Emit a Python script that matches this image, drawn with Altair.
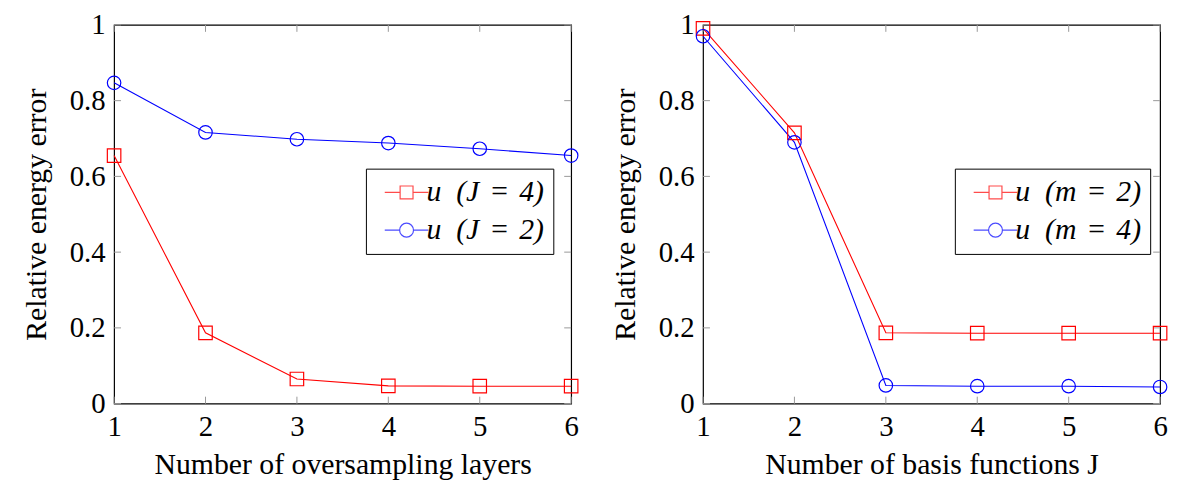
import altair as alt
import pandas as pd

# ---- data ----
x_vals = [1, 2, 3, 4, 5, 6]
left_red = [0.655, 0.187, 0.065, 0.047, 0.046, 0.046]     # u (J = 4)
left_blue = [0.847, 0.716, 0.698, 0.688, 0.673, 0.655]    # u (J = 2)
right_red = [0.991, 0.715, 0.187, 0.186, 0.186, 0.186]    # u (m = 2)
right_blue = [0.970, 0.690, 0.048, 0.046, 0.046, 0.044]   # u (m = 4)

left_names = ["u\u2002(J\u2004=\u20044)", "u\u2002(J\u2004=\u20042)"]
right_names = ["u\u2002(m\u2004=\u20042)", "u\u2002(m\u2004=\u20044)"]
x_ticks = [1, 2, 3, 4, 5, 6]
y_ticks = [0, 0.2, 0.4, 0.6, 0.8, 1]

FONT = "Liberation Serif"
FS = 29
TFS = 30
W, H = 461, 382
RED, BLUE = "#ff0000", "#0000ff"
TICK = 7

sq_leg = "M-4.4,0H-1.3M1.3,0H4.4M-1.3,-1.3H1.3V1.3H-1.3Z"
ci_leg = "M-4.4,0H-1.4M1.4,0H4.4M1.4,0A1.4,1.4,0,1,1,-1.4,0A1.4,1.4,0,1,1,1.4,0"


def panel(names, red, blue, xtitle):
    df = pd.DataFrame({
        "x": x_vals * 2,
        "y": red + blue,
        "s": [names[0]] * len(x_vals) + [names[1]] * len(x_vals),
    })
    xs = alt.Scale(domain=[1, 6], nice=False)
    ys = alt.Scale(domain=[0, 1], nice=False)
    cs = alt.Scale(domain=names, range=[RED, BLUE])
    X = alt.X("x:Q", scale=xs, title=xtitle,
              axis=alt.Axis(values=x_ticks, format="d"))
    Y = alt.Y("y:Q", scale=ys, title="Relative energy error",
              axis=alt.Axis(values=y_ticks, format="~g"))
    base = alt.Chart(df)
    lines = base.mark_line(strokeWidth=1.1).encode(
        x=X, y=Y, color=alt.Color("s:N", scale=cs, legend=None), detail="s:N")
    pts = base.mark_point(filled=False, size=185, strokeWidth=1.2, opacity=1).encode(
        x=X, y=Y,
        color=alt.Color("s:N", scale=cs, legend=None),
        shape=alt.Shape("s:N", scale=alt.Scale(domain=names, range=["square", "circle"]), legend=None))
    stroke_expr = f"datum.value === '{names[0]}' ? '{RED}' : '{BLUE}'"
    lg = dict(
        title=None, orient="none", legendX=254, legendY=145,
        strokeColor="#000000", fillColor="#ffffff", padding=9,
        cornerRadius=0, symbolSize=100, symbolStrokeWidth=1.2,
        symbolStrokeColor={"expr": stroke_expr},
        symbolOffset=17, labelOffset=5, rowPadding=8,
        labelFont=FONT, labelFontSize=TFS, labelFontStyle="italic",
        labelColor="#000000", labelLimit=400)
    leg = base.transform_filter("false").mark_point(filled=False, size=100, strokeWidth=1.2).encode(
        x=X, y=Y,
        color=alt.Color("s:N", scale=cs, legend=None),
        shape=alt.Shape("s:N", scale=alt.Scale(domain=names, range=[sq_leg, ci_leg]),
                        legend=alt.Legend(**lg)))
    tdf_x = pd.DataFrame({"t": x_ticks})
    tdf_y = pd.DataFrame({"t": y_ticks})
    tick_style = dict(color="#999999", strokeWidth=1)
    bt = alt.Chart(tdf_x).mark_rule(**tick_style).encode(
        x=alt.X("t:Q", scale=xs), y=alt.value(H), y2=alt.value(H - TICK))
    tt = alt.Chart(tdf_x).mark_rule(**tick_style).encode(
        x=alt.X("t:Q", scale=xs), y=alt.value(0), y2=alt.value(TICK))
    lt = alt.Chart(tdf_y).mark_rule(**tick_style).encode(
        y=alt.Y("t:Q", scale=ys), x=alt.value(0), x2=alt.value(TICK))
    rt = alt.Chart(tdf_y).mark_rule(**tick_style).encode(
        y=alt.Y("t:Q", scale=ys), x=alt.value(W), x2=alt.value(W - TICK))
    return alt.layer(bt, tt, lt, rt, lines, pts, leg).resolve_scale(
        shape="independent").properties(width=W, height=H)


left = panel(left_names, left_red, left_blue, "Number of oversampling layers")
right = panel(right_names, right_red, right_blue, "Number of basis functions J")

chart = alt.hconcat(left, right, spacing=29).properties(
    padding={"left": 13, "right": 0, "top": 0, "bottom": 0}
).configure_view(stroke="#000000", strokeWidth=1.2).configure_axis(
    domain=False, ticks=False, grid=False,
    labelFont=FONT, labelFontSize=FS, labelColor="#000000",
    titleFont=FONT, titleFontSize=TFS, titleColor="#000000",
    titleFontWeight="normal",
    labelPadding=9, labelFlush=False,
).configure_axisX(titlePadding=8).configure_axisY(titlePadding=18)

chart.save("out.html", embed_options={"renderer": "svg", "actions": False})
